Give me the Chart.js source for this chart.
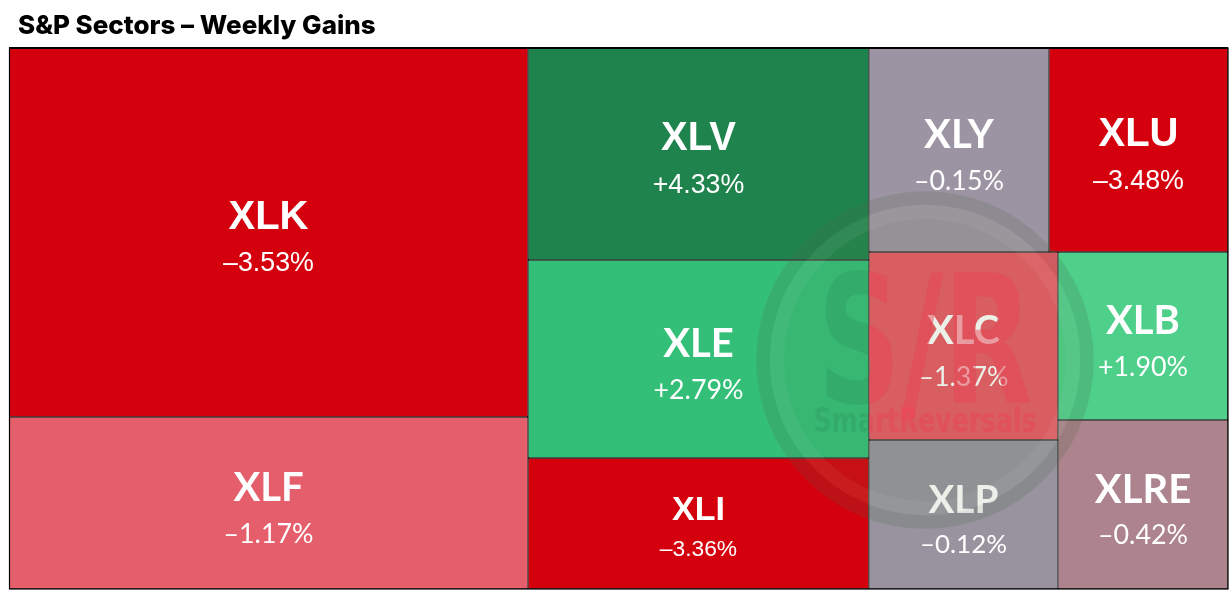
<!DOCTYPE html>
<html>
<head>
<meta charset="utf-8">
<script src="https://cdn.jsdelivr.net/npm/chart.js@4.4.1/dist/chart.umd.min.js"></script>
<style>
  html, body { margin: 0; padding: 0; background: #fff; }
  #wrap { width: 1232px; height: 594px; position: relative; }
</style>
</head>
<body>
<div id="wrap"><canvas id="treemap"></canvas></div>
<script>
// sector tickers, tile sizes (weight) and weekly change in %
const tickers = ['XLK', 'XLF', 'XLV', 'XLE', 'XLI', 'XLY', 'XLU', 'XLC', 'XLP', 'XLB', 'XLRE'];
const weights = [29.04, 13.54, 10.96, 10.24, 6.77, 5.57, 5.54, 5.39, 4.27, 4.33, 4.36];
const changes = [-3.53, -1.17, 4.33, 2.79, -3.36, -0.15, -3.48, -1.37, -0.12, 1.90, -0.42];

const tileColors = ['#D5000D', '#E55E6B', '#1F834D', '#33BF78', '#D5000D', '#9C94A2',
                    '#D5000D', '#EB5965', '#98939F', '#4ECF8A', '#AD838E'];
const labelFonts = ['Liberation Sans', 'Lato', 'Liberation Sans', 'Lato', 'Liberation Sans', 'Lato',
                    'Liberation Sans', 'Lato', 'Lato', 'Lato', 'Lato'];

// how excel nested the tiles: h = side by side, v = stacked
const layoutTree = {dir: 'h', children: [
  {dir: 'v', children: ['XLK', 'XLF']},
  {dir: 'v', children: ['XLV', 'XLE', 'XLI']},
  {dir: 'v', children: [
    {dir: 'h', children: ['XLY', 'XLU']},
    {dir: 'h', children: [
      {dir: 'v', children: ['XLC', 'XLP']},
      {dir: 'v', children: ['XLB', 'XLRE']}
    ]}
  ]}
]};

function nodeWeight(node, values) {
  if (typeof node === 'string') return values[tickers.indexOf(node)];
  return node.children.reduce((s, c) => s + nodeWeight(c, values), 0);
}

// split a box (in axis units) among the children, proportional to weight
function layoutNode(node, values, box, out) {
  if (typeof node === 'string') { out[node] = box; return out; }
  const total = nodeWeight(node, values);
  let pos = node.dir === 'h' ? box.x0 : box.y0;
  node.children.forEach(child => {
    const share = nodeWeight(child, values) / total;
    if (node.dir === 'h') {
      const w = (box.x1 - box.x0) * share;
      layoutNode(child, values, {x0: pos, x1: pos + w, y0: box.y0, y1: box.y1}, out);
      pos += w;
    } else {
      const h = (box.y1 - box.y0) * share;
      layoutNode(child, values, {x0: box.x0, x1: box.x1, y0: pos, y1: pos + h}, out);
      pos += h;
    }
  });
  return out;
}

class TreemapController extends Chart.DatasetController {
  update(mode) {
    const meta = this._cachedMeta;
    this.updateElements(meta.data, 0, meta.data.length, mode);
  }
  updateElements(rects, start, count, mode) {
    const meta = this._cachedMeta;
    const xs = meta.xScale, ys = meta.yScale;
    const values = this.getDataset().data;
    const boxes = layoutNode(layoutTree, values, {x0: 0, x1: 100, y0: 0, y1: 100}, {});
    for (let i = start; i < start + count; i++) {
      const b = boxes[this.chart.data.labels[i]];
      const l = xs.getPixelForValue(b.x0), r = xs.getPixelForValue(b.x1);
      const t = ys.getPixelForValue(b.y0), bt = ys.getPixelForValue(b.y1);
      this.updateElement(rects[i], i, {
        x: (l + r) / 2,
        y: Math.min(t, bt),
        base: Math.max(t, bt),
        width: Math.abs(r - l),
        height: Math.abs(bt - t),
        horizontal: false,
        borderSkipped: {},
        inflateAmount: 0,
        options: this.resolveDataElementOptions(i, mode)
      }, mode);
    }
  }
}
TreemapController.id = 'treemap';
TreemapController.defaults = { datasetElementType: false, dataElementType: 'bar' };
TreemapController.overrides = {
  scales: { x: {type: 'linear', display: false}, y: {type: 'linear', display: false} }
};
Chart.register(TreemapController);

function fmt(v) {
  return (v < 0 ? '\u2013' : '+') + Math.abs(v).toFixed(2) + '%';
}

function drawSqueezed(ctx, text, x, y, targetW) {
  const w = ctx.measureText(text).width;
  ctx.save();
  ctx.translate(x, y);
  ctx.scale(targetW / w, 1);
  ctx.fillText(text, 0, 0);
  ctx.restore();
}

const labelPlugin = {
  id: 'tileLabels',
  beforeDraw(chart) {
    const ctx = chart.ctx;
    ctx.save();
    ctx.fillStyle = '#000';
    ctx.font = '800 26px Inter';
    ctx.textBaseline = 'alphabetic';
    ctx.textAlign = 'left';
    ctx.fillText('S&P Sectors \u2013 Weekly Gains', 18, 34);
    ctx.restore();
  },
  afterDatasetsDraw(chart) {
    const ctx = chart.ctx;
    const meta = chart.getDatasetMeta(0);
    ctx.save();
    ctx.textAlign = 'center';
    ctx.textBaseline = 'middle';
    ctx.fillStyle = '#fff';
    meta.data.forEach((el, i) => {
      const h = el.base - el.y;
      const cy = (el.y + el.base) / 2;
      const size = Math.min(40, h * 0.26);
      ctx.font = `700 ${size}px "${labelFonts[i]}"`;
      ctx.fillText(tickers[i], el.x, cy - size * 0.37);
      ctx.font = `400 ${size * 0.67}px "${labelFonts[i]}"`;
      ctx.fillText(fmt(changes[i]), el.x, cy + size * 0.78);
    });

    // outer frame
    const a = chart.chartArea;
    ctx.strokeStyle = '#000';
    ctx.lineWidth = 1.2;
    ctx.strokeRect(a.left + 0.5, a.top, a.right - a.left - 0.5, a.bottom - a.top);
    ctx.lineWidth = 2;
    ctx.beginPath(); ctx.moveTo(a.left, a.top); ctx.lineTo(a.right, a.top); ctx.stroke();

    // watermark
    const cx = 925, cyw = 360, R = 169;
    ctx.beginPath(); ctx.arc(cx, cyw, R, 0, Math.PI * 2);
    ctx.fillStyle = 'rgba(90,130,70,0.12)'; ctx.fill();
    ctx.beginPath(); ctx.arc(cx, cyw, R - 7, 0, Math.PI * 2);
    ctx.lineWidth = 13; ctx.strokeStyle = 'rgba(60,60,70,0.07)'; ctx.stroke();
    ctx.beginPath(); ctx.arc(cx, cyw, R - 21, 0, Math.PI * 2);
    ctx.lineWidth = 14; ctx.strokeStyle = 'rgba(255,255,255,0.05)'; ctx.stroke();

    ctx.textBaseline = 'alphabetic';
    const paintMark = () => {
      ctx.font = '700 178px "DejaVu Sans"';
      drawSqueezed(ctx, 'S/R', cx, 402, 215);
      ctx.font = '700 34px "DejaVu Sans"';
      drawSqueezed(ctx, 'SmartReversals', cx, 432, 223);
    };
    // faint shade everywhere, red only where the tile is red
    ctx.fillStyle = 'rgba(0,40,20,0.08)';
    paintMark();
    ctx.save();
    ctx.beginPath();
    meta.data.forEach((el, i) => {
      if (changes[i] < -1) ctx.rect(el.x - el.width / 2, el.y, el.width, el.base - el.y);
    });
    ctx.clip();
    ctx.fillStyle = 'rgba(255,70,90,0.45)';
    paintMark();
    ctx.restore();
    ctx.restore();
  }
};

new Chart(document.getElementById('treemap'), {
  type: 'treemap',
  data: {
    labels: tickers,
    datasets: [{
      data: weights,
      backgroundColor: tileColors,
      borderColor: '#000',
      borderWidth: 0.7,
      borderSkipped: false
    }]
  },
  options: {
    responsive: true,
    maintainAspectRatio: false,
    animation: false,
    events: [],
    layout: { padding: {left: 9, top: 48, right: 4, bottom: 5} },
    scales: {
      x: {type: 'linear', display: false, min: 0, max: 100},
      y: {type: 'linear', display: false, min: 0, max: 100, reverse: true}
    },
    plugins: { legend: {display: false}, tooltip: {enabled: false}, title: {display: false} }
  },
  plugins: [labelPlugin]
});
</script>
</body>
</html>
